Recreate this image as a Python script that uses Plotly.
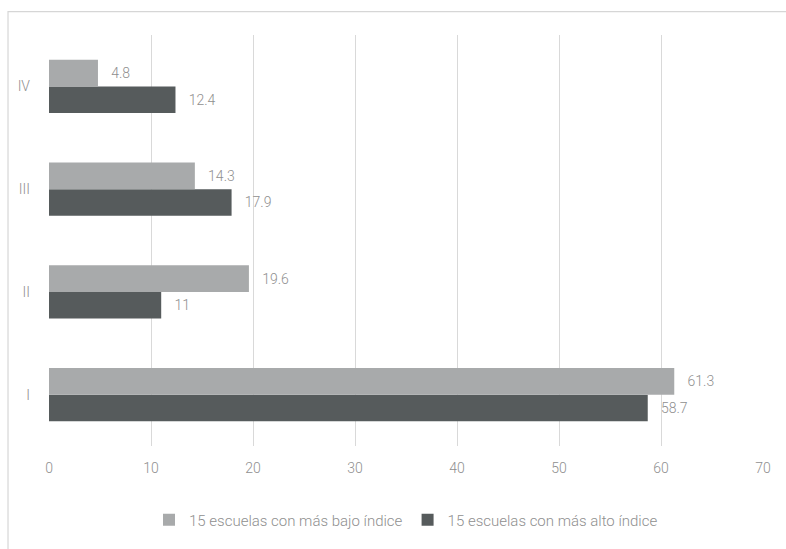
import plotly.graph_objects as go

categories = ["I", "II", "III", "IV"]
bajo = [61.3, 19.6, 14.3, 4.8]
alto = [58.7, 11, 17.9, 12.4]
name_bajo = "15 escuelas con más bajo índice"
name_alto = "15 escuelas con más alto índice"
x_ticks = [0, 10, 20, 30, 40, 50, 60, 70]

FONT = "Roboto, sans-serif"
TXT = "#8f8f8f"
W = 300

def tf(size):
    return dict(color=TXT, size=size, family=FONT, weight=W)

fig = go.Figure()
fig.add_trace(go.Bar(
    y=categories, x=alto, name=name_alto, orientation="h",
    marker=dict(color="#565B5C", line=dict(width=0)),
    texttemplate="   %{x}", textposition="outside", cliponaxis=False,
    textfont=tf(14), legendrank=2,
))
fig.add_trace(go.Bar(
    y=categories, x=bajo, name=name_bajo, orientation="h",
    marker=dict(color="#A8AAAB", line=dict(width=0)),
    texttemplate="   %{x}", textposition="outside", cliponaxis=False,
    textfont=tf(14), legendrank=1,
))

fig.update_layout(
    width=786, height=549,
    margin=dict(l=49, r=23, t=35, b=91),
    paper_bgcolor="white", plot_bgcolor="white",
    barmode="group", bargap=0.48, bargroupgap=0.0,
    font=tf(14),
    showlegend=True,
    legend=dict(orientation="h", x=0.5, xanchor="center", y=-0.14, yanchor="top",
                font=tf(15), itemwidth=30, traceorder="normal"),
    xaxis=dict(range=[0, 70], tickvals=x_ticks, showgrid=True, gridcolor="#d9d9d9",
               gridwidth=1.3, zeroline=False, showline=False,
               tickfont=tf(14), ticklabelstandoff=12),
    yaxis=dict(range=[-0.5, 3.5], showgrid=False, zeroline=False, showline=False,
               tickfont=tf(14), ticklabelstandoff=18),
    shapes=[dict(type="rect", xref="paper", yref="paper",
                 x0=-0.0574, x1=1.2, y0=-0.5, y1=1.0567,
                 line=dict(color="#d6d6d6", width=1.2), fillcolor="rgba(0,0,0,0)",
                 layer="below")],
)

fig.write_html("out.html")
